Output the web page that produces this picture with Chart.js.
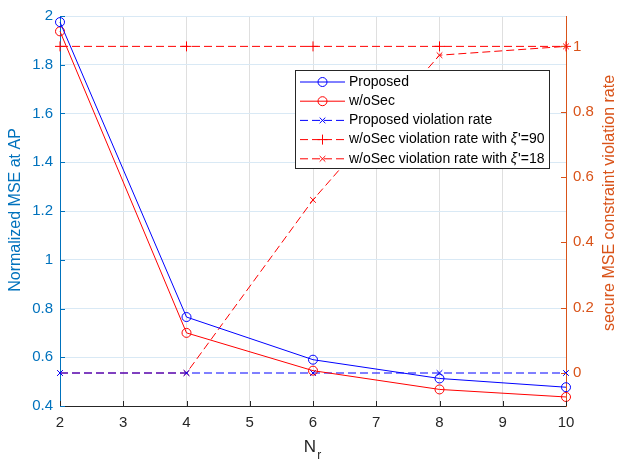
<!DOCTYPE html>
<html>
<head>
<meta charset="utf-8">
<script src="https://cdn.jsdelivr.net/npm/chart.js@4.4.0/dist/chart.umd.min.js"></script>
<style>
  html, body { margin: 0; padding: 0; background: #fff; }
  #wrap { width: 618px; height: 464px; }
</style>
</head>
<body>
<div id="wrap"><canvas id="mseChart" width="618" height="464"></canvas></div>
<script>
// ===============================
// DATA
// ===============================
const nr = [2, 4, 6, 8, 10];

// normalized MSE at the AP (left axis)
const mseProposed = [1.975, 0.765, 0.59, 0.513, 0.477];
const mseWoSec = [1.937, 0.70, 0.545, 0.468, 0.437];

// secure MSE constraint violation rate (right axis)
const violProposed = [0, 0, 0, 0, 0];
const violWoSec90 = [1, 1, 1, 1, 1];
const violWoSec18 = [0, 0, 0.53, 0.973, 1];

const xTicks = [2, 3, 4, 5, 6, 7, 8, 9, 10];
const leftTicks = [0.4, 0.6, 0.8, 1, 1.2, 1.4, 1.6, 1.8, 2];
const rightTicks = [0, 0.2, 0.4, 0.6, 0.8, 1];

const FONT = "'Liberation Sans', Arial, Helvetica, sans-serif";
const BLUE_AX = "#0072BD";
const ORANGE_AX = "#D95319";
const DARK = "#262626";

const pts = arr => nr.map((x, i) => ({ x: x, y: arr[i] }));
const fmt = v => String(+Number(v).toFixed(1));

// ===============================
// SERIES
// ===============================
const series = [
  { label: "Proposed", data: mseProposed, color: "#0000ff", axis: "y", dash: [], marker: "circle", r: 4.5 },
  { label: "w/oSec", data: mseWoSec, color: "#ff0000", axis: "y", dash: [], marker: "circle", r: 4.5 },
  { label: "Proposed violation rate", data: violProposed, color: "#0000ff", axis: "y2", dash: [8, 4], marker: "crossRot", r: 4 },
  { label: "w/oSec violation rate with ", sym: "\u03BE", tail: "'=90", data: violWoSec90, color: "#ff0000", axis: "y2", dash: [8, 4], marker: "cross", r: 5 },
  { label: "w/oSec violation rate with ", sym: "\u03BE", tail: "'=18", data: violWoSec18, color: "#ff0000", axis: "y2", dash: [8, 4], marker: "crossRot", r: 4 }
];

const datasets = series.map(s => ({
  label: s.label + (s.sym || "") + (s.tail || ""),
  data: pts(s.data),
  yAxisID: s.axis,
  borderColor: s.color,
  borderWidth: 1,
  borderDash: s.dash,
  pointStyle: s.marker,
  pointRadius: s.r,
  pointBorderColor: s.color,
  pointBackgroundColor: "rgba(0,0,0,0)",
  pointBorderWidth: 1,
  tension: 0,
  clip: false
}));

// ===============================
// MARKER HELPER (legend)
// ===============================
function drawMarker(ctx, style, x, y, r) {
  ctx.beginPath();
  if (style === "circle") {
    ctx.arc(x, y, r, 0, Math.PI * 2);
  } else if (style === "cross") {
    ctx.moveTo(x - r, y); ctx.lineTo(x + r, y);
    ctx.moveTo(x, y - r); ctx.lineTo(x, y + r);
  } else {
    const d = r * 0.7071;
    ctx.moveTo(x - d, y - d); ctx.lineTo(x + d, y + d);
    ctx.moveTo(x - d, y + d); ctx.lineTo(x + d, y - d);
  }
  ctx.stroke();
}

// ===============================
// INWARD TICKS, AXIS TITLES, LEGEND
// ===============================
const decorPlugin = {
  id: "decor",
  afterDraw(chart) {
    const ctx = chart.ctx;
    const a = chart.chartArea;
    const sx = chart.scales.x, sy = chart.scales.y, sy2 = chart.scales.y2;
    const TL = 5;

    ctx.save();
    ctx.lineWidth = 1;
    ctx.setLineDash([]);

    // tick marks pointing into the plot
    ctx.strokeStyle = DARK;
    xTicks.forEach(v => {
      const px = Math.round(sx.getPixelForValue(v)) + 0.5;
      ctx.beginPath(); ctx.moveTo(px, a.bottom); ctx.lineTo(px, a.bottom - TL); ctx.stroke();
    });
    ctx.strokeStyle = BLUE_AX;
    leftTicks.forEach(v => {
      const py = Math.round(sy.getPixelForValue(v)) + 0.5;
      ctx.beginPath(); ctx.moveTo(a.left, py); ctx.lineTo(a.left + TL, py); ctx.stroke();
    });
    ctx.strokeStyle = ORANGE_AX;
    rightTicks.forEach(v => {
      const py = Math.round(sy2.getPixelForValue(v)) + 0.5;
      ctx.beginPath(); ctx.moveTo(a.right, py); ctx.lineTo(a.right - TL, py); ctx.stroke();
    });

    // axis titles
    ctx.textAlign = "center";
    ctx.textBaseline = "middle";
    ctx.font = "16px " + FONT;
    ctx.fillStyle = BLUE_AX;
    ctx.save();
    ctx.translate(16, 210);
    ctx.rotate(-Math.PI / 2);
    ctx.fillText("Normalized MSE at AP", 0, 0);
    ctx.restore();

    ctx.fillStyle = ORANGE_AX;
    ctx.save();
    ctx.translate(610, 203);
    ctx.rotate(-Math.PI / 2);
    ctx.fillText("secure MSE constraint violation rate", 0, 0);
    ctx.restore();

    // x title N_r
    ctx.fillStyle = DARK;
    ctx.textAlign = "left";
    ctx.textBaseline = "alphabetic";
    ctx.font = "17px " + FONT;
    const nW = ctx.measureText("N").width;
    const cx = (a.left + a.right) / 2;
    ctx.fillText("N", cx - nW / 2 - 3, 452);
    ctx.font = "12px " + FONT;
    ctx.fillText("r", cx + nW / 2 - 2, 459);

    // legend box
    const bx = 295, by = 70, bw = 254, bh = 98;
    ctx.fillStyle = "#ffffff";
    ctx.fillRect(bx, by, bw, bh);
    ctx.strokeStyle = DARK;
    ctx.strokeRect(bx + 0.5, by + 0.5, bw, bh);

    ctx.textBaseline = "middle";
    series.forEach((s, i) => {
      const y = by + 12 + i * 19.2;
      ctx.strokeStyle = s.color;
      ctx.setLineDash(s.dash);
      ctx.beginPath(); ctx.moveTo(300, y); ctx.lineTo(345, y); ctx.stroke();
      ctx.setLineDash([]);
      drawMarker(ctx, s.marker, 322.5, y, s.r);

      ctx.fillStyle = "#000000";
      ctx.font = "14px " + FONT;
      let tx = 349;
      ctx.fillText(s.label, tx, y);
      if (s.sym) {
        tx += ctx.measureText(s.label).width;
        ctx.font = "italic 14px " + FONT;
        ctx.fillText(s.sym, tx, y);
        tx += ctx.measureText(s.sym).width + 1;
        ctx.font = "14px " + FONT;
        ctx.fillText(s.tail, tx, y);
      }
    });
    ctx.restore();
  }
};

// ===============================
// CHART
// ===============================
const ctxMain = document.getElementById("mseChart").getContext("2d");
new Chart(ctxMain, {
  type: "line",
  data: { datasets: datasets },
  options: {
    responsive: false,
    animation: false,
    layout: { padding: { top: 12, left: 0, right: 0, bottom: 0 } },
    plugins: { legend: { display: false }, tooltip: { enabled: false } },
    scales: {
      x: {
        type: "linear",
        min: 2,
        max: 10,
        afterBuildTicks: s => { s.ticks = xTicks.map(v => ({ value: v })); },
        afterFit: s => { s.height = 58; },
        grid: {
          color: c => (c.tick && (c.tick.value === 2 || c.tick.value === 10)) ? "rgba(0,0,0,0)" : "#dfdfdf",
          drawTicks: false
        },
        border: { color: DARK, width: 1 },
        ticks: { color: DARK, font: { family: FONT, size: 15 }, padding: 8, maxRotation: 0, callback: v => fmt(v) }
      },
      y: {
        position: "left",
        min: 0.4,
        max: 2,
        afterBuildTicks: s => { s.ticks = leftTicks.map(v => ({ value: v })); },
        afterFit: s => { s.width = 60; },
        grid: {
          color: c => (c.tick && c.tick.value === 0.4) ? "rgba(0,0,0,0)" : "rgb(217,233,245)",
          drawTicks: false
        },
        border: { color: BLUE_AX, width: 1 },
        ticks: { color: BLUE_AX, font: { family: FONT, size: 15 }, padding: 7, callback: v => fmt(v) }
      },
      y2: {
        position: "right",
        min: -0.101,
        max: 1.093,
        afterBuildTicks: s => { s.ticks = rightTicks.map(v => ({ value: v })); },
        afterFit: s => { s.width = 52; },
        grid: { drawOnChartArea: false, drawTicks: false },
        border: { color: ORANGE_AX, width: 1 },
        ticks: { color: ORANGE_AX, font: { family: FONT, size: 15 }, padding: 7, callback: v => fmt(v) }
      }
    }
  },
  plugins: [decorPlugin]
});
</script>
</body>
</html>
